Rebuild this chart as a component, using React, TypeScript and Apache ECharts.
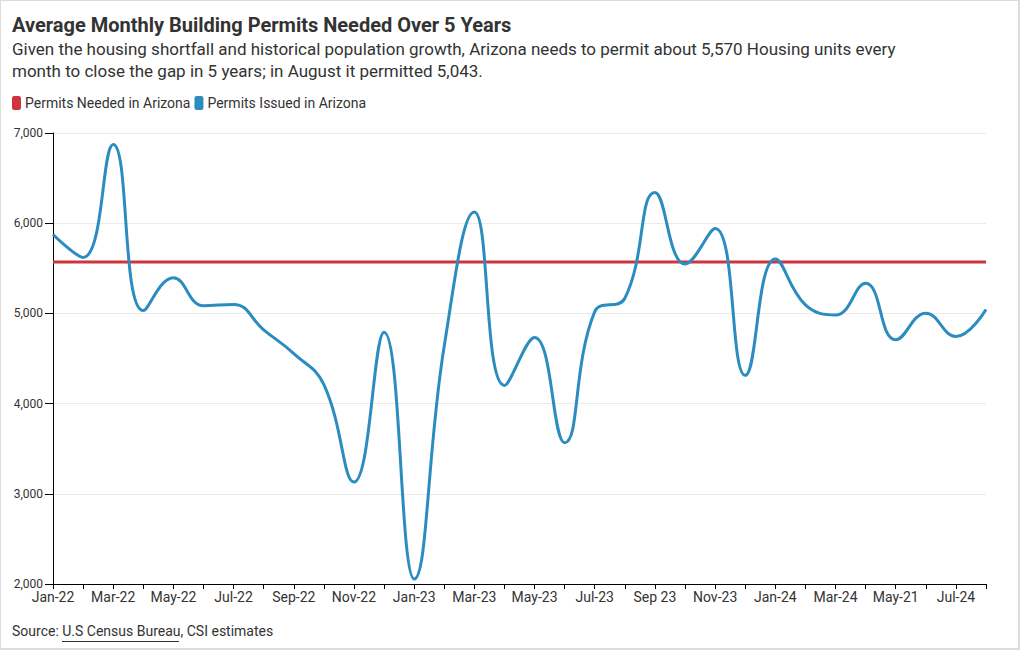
import React, { useEffect, useRef } from "react";
import * as echarts from "echarts";

const months = [
  "Jan-22", "Feb-22", "Mar-22", "Apr-22", "May-22", "Jun-22", "Jul-22", "Aug-22",
  "Sep-22", "Oct-22", "Nov-22", "Dec-22", "Jan-23", "Feb-23", "Mar-23", "Apr-23",
  "May-23", "Jun-23", "Jul-23", "Aug-23", "Sep 23", "Oct-23", "Nov-23", "Dec-23",
  "Jan-24", "Feb-24", "Mar-24", "Apr-24", "May-21", "Jun-24", "Jul-24", "Aug-24",
];

const permitsIssued = [
  5875, 5621, 6873, 5031, 5396, 5086, 5100, 4818,
  4555, 4210, 3130, 4792, 2055, 4640, 6125, 4202,
  4733, 3566, 5020, 5168, 6339, 5547, 5941, 4313,
  5602, 5094, 4983, 5334, 4707, 5002, 4744, 5043,
];

const permitsNeededPerMonth = 5570;

const yMin = 2000;
const yMax = 7000;
const yStep = 1000;

const title = "Average Monthly Building Permits Needed Over 5 Years";
const subtitle1 =
  "Given the housing shortfall and historical population growth, Arizona needs to permit about 5,570 Housing units every";
const subtitle2 = "month to close the gap in 5 years; in August it permitted 5,043.";

const FONT = "Roboto, 'Noto Sans', sans-serif";

export default function App() {
  const ref = useRef<HTMLDivElement>(null);

  useEffect(() => {
    document.body.style.margin = "0";
    if (!ref.current) return;
    const chart = echarts.init(ref.current, undefined, { renderer: "svg" });
    const needed = months.map(() => permitsNeededPerMonth);
    chart.setOption({
      animation: false,
      textStyle: { fontFamily: FONT },
      legend: {
        left: 12,
        top: 96,
        padding: 0,
        itemWidth: 9,
        itemHeight: 14,
        itemGap: 4,
        icon: "roundRect",
        textStyle: { fontSize: 14, color: "#333", fontFamily: FONT, padding: [0, 0, 0, -1] },
        data: ["Permits Needed in Arizona", "Permits Issued in Arizona"],
      },
      grid: { left: 53, right: 34, top: 133, bottom: 66 },
      xAxis: {
        type: "category",
        data: months,
        boundaryGap: false,
        axisLine: { lineStyle: { color: "#000", width: 1 } },
        axisTick: { interval: 0, length: 5, lineStyle: { color: "#000" } },
        axisLabel: { interval: 1, fontSize: 14, color: "#333", margin: 6, fontFamily: FONT },
        splitLine: { show: false },
      },
      yAxis: {
        type: "value",
        min: yMin,
        max: yMax,
        interval: yStep,
        axisLine: { show: true, lineStyle: { color: "#000", width: 1 } },
        axisTick: { show: true, length: 8, lineStyle: { color: "#000" } },
        axisLabel: {
          fontSize: 12,
          color: "#333",
          margin: 10,
          fontFamily: FONT,
          formatter: (v: number) => v.toLocaleString("en-US"),
        },
        splitLine: { lineStyle: { color: "#ebebeb", width: 1 } },
      },
      series: [
        {
          name: "Permits Needed in Arizona",
          type: "line",
          data: needed,
          symbol: "none",
          lineStyle: { color: "#cc343f", width: 3 },
          itemStyle: { color: "#cc343f" },
        },
        {
          name: "Permits Issued in Arizona",
          type: "line",
          data: permitsIssued,
          symbol: "none",
          smooth: 0.45,
          lineStyle: { color: "#2b8cc0", width: 3 },
          itemStyle: { color: "#2b8cc0" },
        },
      ],
      graphic: [
        {
          type: "text",
          left: 12,
          top: 15,
          style: { text: title, font: `bold 20px ${FONT}`, fill: "#333" },
        },
        {
          type: "text",
          left: 12,
          top: 40,
          style: { text: subtitle1, font: `17px ${FONT}`, fill: "#333" },
        },
        {
          type: "text",
          left: 12,
          top: 62,
          style: { text: subtitle2, font: `17px ${FONT}`, fill: "#333" },
        },
        {
          type: "text",
          left: 12,
          top: 624,
          style: { text: "Source: U.S Census Bureau, CSI estimates", font: `14px ${FONT}`, fill: "#333" },
        },
        {
          type: "line",
          shape: { x1: 62, y1: 641.5, x2: 179, y2: 641.5 },
          style: { stroke: "#333", lineWidth: 1 },
        },
      ],
    });
    return () => chart.dispose();
  }, []);

  return (
    <div
      style={{
        width: 1020,
        height: 650,
        boxSizing: "border-box",
        borderTop: "1px solid #dcdcdc",
        borderLeft: "1px solid #dcdcdc",
        borderRight: "2px solid #dcdcdc",
        borderBottom: "2px solid #dcdcdc",
        position: "relative",
        background: "#fff",
      }}
    >
      <div ref={ref} style={{ position: "absolute", left: -1, top: -1, width: 1020, height: 650 }} />
    </div>
  );
}
